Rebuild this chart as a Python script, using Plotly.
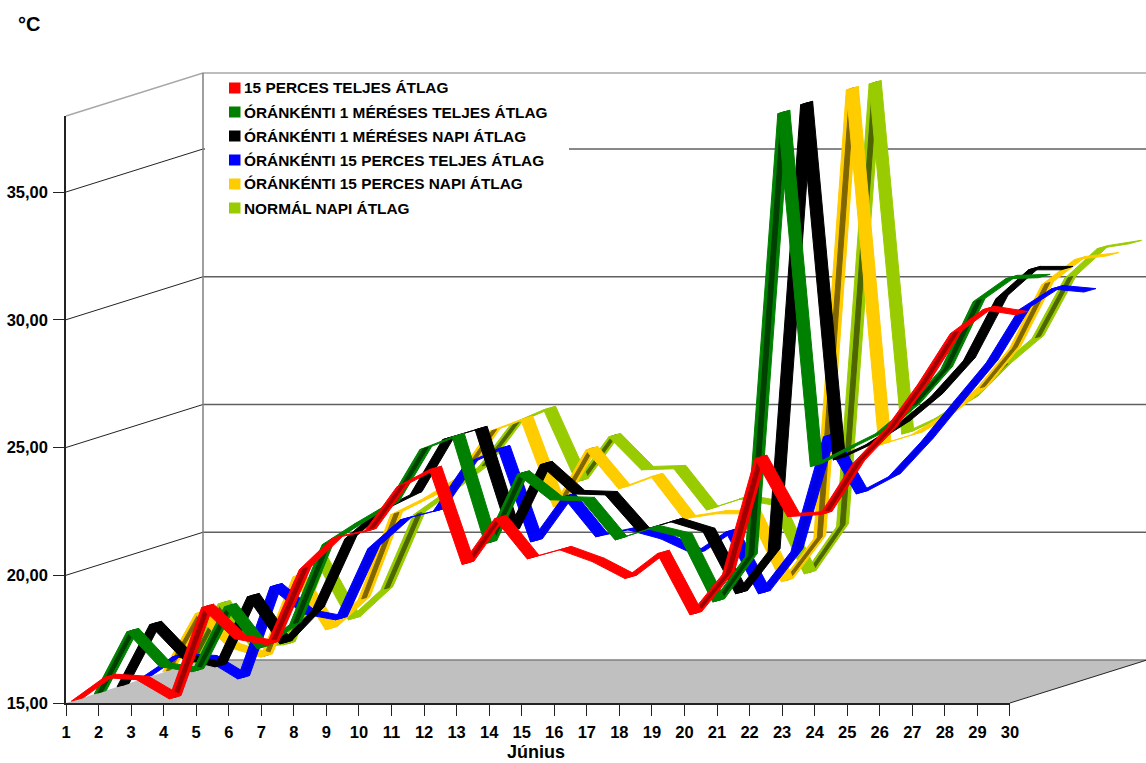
import plotly.graph_objects as go

days = list(range(1, 31))
day_labels = [str(d) for d in days]
y_ticks = [15, 20, 25, 30, 35]
y_labels = ["15,00", "20,00", "25,00", "30,00", "35,00"]
axis_title = "Június"
unit_label = "°C"

red_vals = [15.0, 15.92, 15.84, 15.09, 18.66, 17.44, 17.21, 20.14, 21.36, 21.63, 23.39, 24.06, 20.35, 22.14, 20.57,
            20.92, 20.46, 19.80, 20.77, 18.38, 19.95, 24.49, 22.22, 22.30, 24.29, 25.63, 27.39, 29.38, 30.32, 30.12]
green_vals = [15.0, 17.43, 16.07, 15.87, 18.41, 16.77, 17.71, 20.84, 21.66, 22.41, 24.56, 25.06, 20.88, 23.6, 22.6,
              22.56, 21.03, 21.46, 21.15, 18.6, 20.37, 37.71, 23.9, 24.55, 25.18, 26.24, 27.69, 30.35, 31.25, 31.29]
black_vals = [15.0, 17.43, 16.1, 15.78, 18.52, 16.68, 18.01, 20.79, 21.89, 22.51, 24.67, 25.06, 21.07, 23.69, 22.55,
              22.51, 21.07, 21.46, 21.07, 18.64, 20.28, 37.78, 23.88, 24.47, 25.29, 26.35, 27.76, 30.19, 31.32, 31.32]
blue_vals = [15.03, 15.89, 15.81, 15.03, 18.63, 17.58, 17.34, 20.12, 21.25, 21.57, 23.45, 24.03, 20.39, 22.15, 20.59,
             20.86, 20.51, 19.92, 20.78, 18.36, 20.0, 24.5, 22.27, 22.94, 24.31, 25.87, 27.4, 29.47, 30.29, 30.17]
amber_vals = [15.02, 17.3, 16.0, 15.6, 18.74, 16.67, 17.84, 21.17, 21.8, 22.58, 24.42, 24.89, 21.48, 23.71, 22.19,
              22.66, 21.01, 21.21, 21.21, 18.55, 20.23, 37.8, 23.9, 24.3, 25.08, 26.1, 27.66, 30.17, 31.15, 31.3]
lime_vals = [15.02, 17.4, 15.72, 15.8, 19.1, 16.78, 17.95, 20.89, 21.79, 22.76, 24.45, 25.0, 22.18, 23.94, 22.65,
             22.69, 21.08, 21.51, 21.28, 18.58, 20.42, 37.75, 24.05, 24.64, 25.43, 26.71, 27.78, 30.13, 31.3, 31.5]

series_names = ["15 PERCES TELJES ÁTLAG", "ÓRÁNKÉNTI 1 MÉRÉSES TELJES ÁTLAG", "ÓRÁNKÉNTI 1 MÉRÉSES NAPI ÁTLAG",
                "ÓRÁNKÉNTI 15 PERCES TELJES ÁTLAG", "ÓRÁNKÉNTI 15 PERCES NAPI ÁTLAG", "NORMÁL NAPI ÁTLAG"]
series_vals = [red_vals, green_vals, black_vals, blue_vals, amber_vals, lime_vals]
colors = ["#FF0000", "#008000", "#000000", "#0000FF", "#FFCC00", "#99CC00"]
under_colors = ["#A00000", "#004000", "#000000", "#0000E0", "#806600", "#4D6600"]

W, H = 1146, 763
PX_DAY = 32.55          # px per day
PX_DEG = 25.55          # px per degree
X0, Y0 = 66, 703        # pixel of day 1 / 15 degrees on the front plane
DEPTH_X = 137 / PX_DAY  # depth of the box, in days
DEPTH_Y = 43 / PX_DEG   # depth of the box, in degrees
Y_TOP = 15 + (Y0 - 116) / PX_DEG
N = len(series_vals)
RIB_X = 12 / PX_DAY
RIB_Y = 3.4 / PX_DEG
CORE = 0.4              # share of the ribbon that shows the shaded underside
CORE_SLOPE = 1.0        # screen slope above which the shaded underside shows

fig = go.Figure()

# floor
fig.add_trace(go.Scatter(
    x=[1, 30, 30 + DEPTH_X, 1 + DEPTH_X, 1], y=[15, 15, 15 + DEPTH_Y, 15 + DEPTH_Y, 15],
    mode="none", fill="toself", fillcolor="#C0C0C0", hoverinfo="skip", showlegend=False))

def seg(x, y, color, width):
    fig.add_trace(go.Scatter(x=x, y=y, mode="lines", line=dict(color=color, width=width),
                             hoverinfo="skip", showlegend=False))

# back wall and side wall
for t in y_ticks[1:]:
    seg([1 + DEPTH_X, 30 + DEPTH_X], [t + DEPTH_Y, t + DEPTH_Y], "#606060", 1.5)
    seg([1, 1 + DEPTH_X], [t, t + DEPTH_Y], "#222222", 1)
seg([1, 1 + DEPTH_X, 30 + DEPTH_X, 30 + DEPTH_X], [Y_TOP, Y_TOP + DEPTH_Y, Y_TOP + DEPTH_Y, 15 + DEPTH_Y], "#A8A8A8", 1.5)
seg([1 + DEPTH_X, 1 + DEPTH_X, 30 + DEPTH_X], [Y_TOP + DEPTH_Y, 15 + DEPTH_Y, 15 + DEPTH_Y], "#808080", 1.5)
seg([30, 30 + DEPTH_X], [15, 15 + DEPTH_Y], "#222222", 1)

def quad(x1, y1, x2, y2, sx, sy):
    return ([x1 - sx / 2, x2 - sx / 2, x2 + sx / 2, x1 + sx / 2, x1 - sx / 2, None],
            [y1 - sy / 2, y2 - sy / 2, y2 + sy / 2, y1 + sy / 2, y1 - sy / 2, None])

# ribbons, back to front
slope_limit = RIB_Y * PX_DEG / (RIB_X * PX_DAY)
for k in reversed(range(N)):
    off_x = (k + 0.5) / N * DEPTH_X
    off_y = (k + 0.5) / N * DEPTH_Y
    vals = series_vals[k]
    up_x, up_y, core_x, core_y, dn_x, dn_y = [], [], [], [], [], []
    for i in range(len(days) - 1):
        x1, x2 = days[i] + off_x, days[i + 1] + off_x
        y1, y2 = vals[i] + off_y, vals[i + 1] + off_y
        px, py = quad(x1, y1, x2, y2, RIB_X, RIB_Y)
        slope = (y2 - y1) * PX_DEG / PX_DAY
        if slope > slope_limit:
            up_x += px; up_y += py
            if slope > CORE_SLOPE:
                cx, cy = quad(x1, y1, x2, y2, RIB_X * CORE, RIB_Y * CORE)
                core_x += cx; core_y += cy
        else:
            dn_x += px; dn_y += py
    for qx, qy, col in ((up_x, up_y, colors[k]), (core_x, core_y, under_colors[k]), (dn_x, dn_y, colors[k])):
        fig.add_trace(go.Scatter(x=qx, y=qy, mode="lines", fill="toself", fillcolor=col,
                                 line=dict(color=col, width=1), hoverinfo="skip", showlegend=False))

# real axes on the front plane
fig.add_trace(go.Scatter(x=[1, 30], y=[15, Y_TOP], xaxis="x2", yaxis="y2", mode="none",
                         hoverinfo="skip", showlegend=False))

tick_font = dict(family="Liberation Sans", size=16.5, color="#000000", weight="bold")

layout = dict(
    width=W, height=H, autosize=False,
    margin=dict(l=0, r=0, t=0, b=0),
    paper_bgcolor="#FFFFFF", plot_bgcolor="rgba(0,0,0,0)", showlegend=False,
    xaxis=dict(domain=[0, 1], range=[1 - X0 / PX_DAY, 1 + (W - X0) / PX_DAY], visible=False),
    yaxis=dict(domain=[0, 1], range=[15 - (H - Y0) / PX_DEG, 15 + Y0 / PX_DEG], visible=False),
    xaxis2=dict(domain=[X0 / W, (X0 + 29 * PX_DAY) / W], range=[1, 30], anchor="y2", tickmode="array",
                tickvals=days, ticktext=day_labels, ticks="outside", ticklen=11, tickwidth=1, tickcolor="#222222",
                showline=True, linecolor="#222222", linewidth=1.5, showgrid=False, zeroline=False,
                tickfont=tick_font, ticklabelstandoff=2, automargin=False),
    yaxis2=dict(domain=[(H - Y0) / H, (H - 116) / H], range=[15, Y_TOP], anchor="x2", tickmode="array",
                tickvals=y_ticks, ticktext=y_labels, ticks="outside", ticklen=11, tickwidth=1, tickcolor="#222222",
                showline=True, linecolor="#222222", linewidth=1.5, showgrid=False, zeroline=False,
                tickfont=tick_font, ticklabelstandoff=2, automargin=False),
)

# hand-placed key, as in the reference: white panel, swatches, labels
shapes = [dict(type="rect", xref="paper", yref="paper", x0=205 / W, x1=569 / W, y0=1 - 222 / H, y1=1 - 75 / H,
               fillcolor="#FFFFFF", line_width=0, layer="above")]
annotations = [dict(text=unit_label, xref="paper", yref="paper", x=16 / W, y=1 - 24 / H, xanchor="left", yanchor="middle",
                    showarrow=False, font=dict(family="Liberation Sans", size=20, color="#000000", weight="bold")),
               dict(text=axis_title, xref="paper", yref="paper", x=536 / W, y=1 - 752 / H, xanchor="center", yanchor="middle",
                    showarrow=False, font=dict(family="Liberation Sans", size=18, color="#000000", weight="bold"))]
for k, name in enumerate(series_names):
    yc = 88 + 24 * k
    shapes.append(dict(type="rect", xref="paper", yref="paper", x0=229 / W, x1=240.5 / W, y0=1 - (yc + 5.5) / H,
                       y1=1 - (yc - 5.5) / H, fillcolor=colors[k], line_width=0, layer="above"))
    annotations.append(dict(text=name, xref="paper", yref="paper", x=242 / W, y=1 - yc / H, xanchor="left",
                            yanchor="middle", showarrow=False,
                            font=dict(family="Liberation Sans", size=15.4, color="#000000", weight="bold")))
layout["shapes"] = shapes
layout["annotations"] = annotations
fig.update_layout(**layout)

fig.write_html("out.html", config={"displayModeBar": False},
               post_script="document.body.style.margin='0';document.body.style.overflow='hidden';")
